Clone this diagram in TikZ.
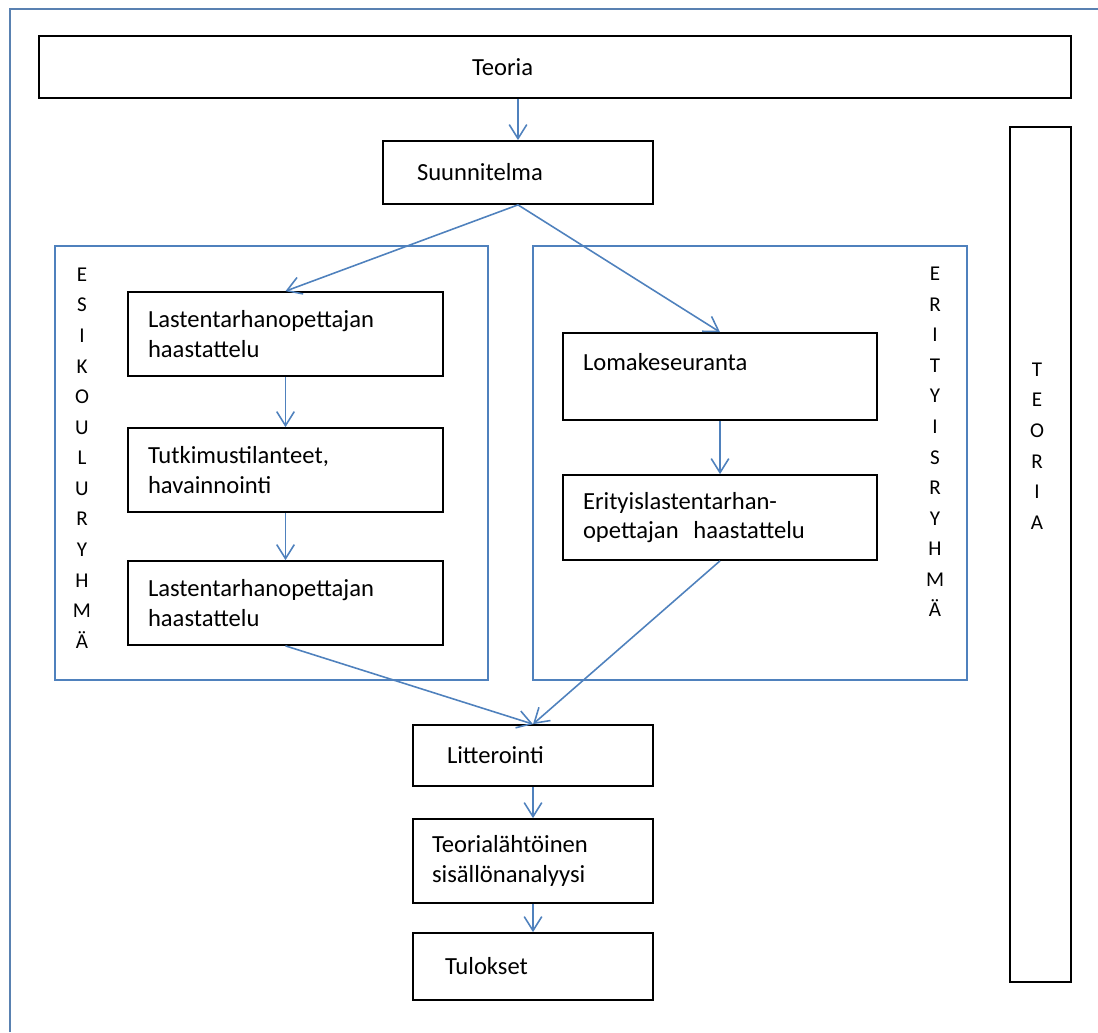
\documentclass[tikz,border=0pt]{standalone}
\usepackage{fontspec}
\setmainfont{Carlito}
\usetikzlibrary{arrows.meta}

\definecolor{linkblue}{RGB}{79,129,189}

\begin{document}
\begin{tikzpicture}[
  x=0.02cm,y=-0.02cm,
  font=\fontsize{14}{17}\selectfont,
  stagebox/.style={draw,line width=1pt,align=left,inner ysep=0pt,inner xsep=0.4cm},
  groupframe/.style={draw=linkblue,line width=0.8pt,inner sep=0pt},
  letterstack/.style={align=center,inner sep=0pt,font=\fontsize{12}{17.4}\selectfont},
  flow/.style={-{Straight Barb[length=8pt,width=10pt]},draw=linkblue,line width=0.9pt}
]
  \useasboundingbox (0,0) rectangle (1098,1032);
  \draw[draw=linkblue!80!gray,line width=0.8pt] (10,1032) -- (10,9) -- (1098,9);

  % group frames
  \node[groupframe,minimum width=8.66cm,minimum height=8.68cm] (esikoulu) at (271.5,463) {};
  \node[groupframe,minimum width=8.68cm,minimum height=8.68cm] (erityis) at (750,463) {};
  \node[letterstack] (esiword) at (82,458) {E\\S\\I\\K\\O\\U\\L\\U\\R\\Y\\H\\M\\Ä};
  \node[letterstack] (eritword) at (935,442) {E\\R\\I\\T\\Y\\I\\S\\R\\Y\\H\\M\\Ä};

  % theory boxes
  \node[stagebox,text width=19.84cm,minimum height=1.24cm] (teoria) at (555,67) {\hspace*{8.26cm}Teoria};
  \node[draw,line width=1pt,minimum width=1.22cm,minimum height=17.1cm] (teoriaside) at (1040.5,554.5) {};
  \node[letterstack] (teoriaword) at (1037,446) {T\\E\\O\\R\\I\\A};

  % stages
  \node[stagebox,inner xsep=0.68cm,text width=4.04cm,minimum height=1.26cm] (suunnitelma) at (518,172.5) {Suunnitelma};
  \node[stagebox,text width=5.5cm,minimum height=1.68cm] (haastattelu1) at (285.5,334) {Lastentarhanopettajan\\haastattelu};
  \node[stagebox,text width=5.5cm,minimum height=1.68cm] (tutkimus) at (285.5,470) {Tutkimustilanteet,\\havainnointi};
  \node[stagebox,text width=5.5cm,minimum height=1.68cm] (haastattelu2) at (285.5,603) {Lastentarhanopettajan\\haastattelu};
  \node[stagebox,text width=5.48cm,minimum height=1.74cm] (lomake) at (720,376.5) {Lomakeseuranta\\\mbox{}};
  \node[stagebox,text width=5.48cm,minimum height=1.70cm] (erityishaast) at (720,517.5) {Erityislastentarhan-\\opettajan\hspace{0.6em}haastattelu};
  \node[stagebox,inner xsep=0.68cm,text width=3.44cm,minimum height=1.22cm] (litterointi) at (533,755.5) {Litterointi};
  \node[stagebox,inner xsep=0.38cm,text width=4.04cm,minimum height=1.68cm] (analyysi) at (533,861) {Teorialähtöinen\\sisällönanalyysi};
  \node[stagebox,inner xsep=0.64cm,text width=3.52cm,minimum height=1.34cm] (tulokset) at (533,966.5) {Tulokset};

  % connectors
  \draw[flow] (teoria.south -| suunnitelma.north) -- (suunnitelma.north);
  \draw[flow] (suunnitelma.south) -- (haastattelu1.north);
  \draw[flow] (suunnitelma.south) -- (lomake.north);
  \draw[flow] (haastattelu1) -- (tutkimus);
  \draw[flow] (tutkimus) -- (haastattelu2);
  \draw[flow] (lomake) -- (erityishaast);
  \draw[flow] (haastattelu2.south) -- (litterointi.north);
  \draw[flow] (erityishaast.south) -- (litterointi.north);
  \draw[flow] (litterointi) -- (analyysi);
  \draw[flow] (analyysi) -- (tulokset);
\end{tikzpicture}
\end{document}
